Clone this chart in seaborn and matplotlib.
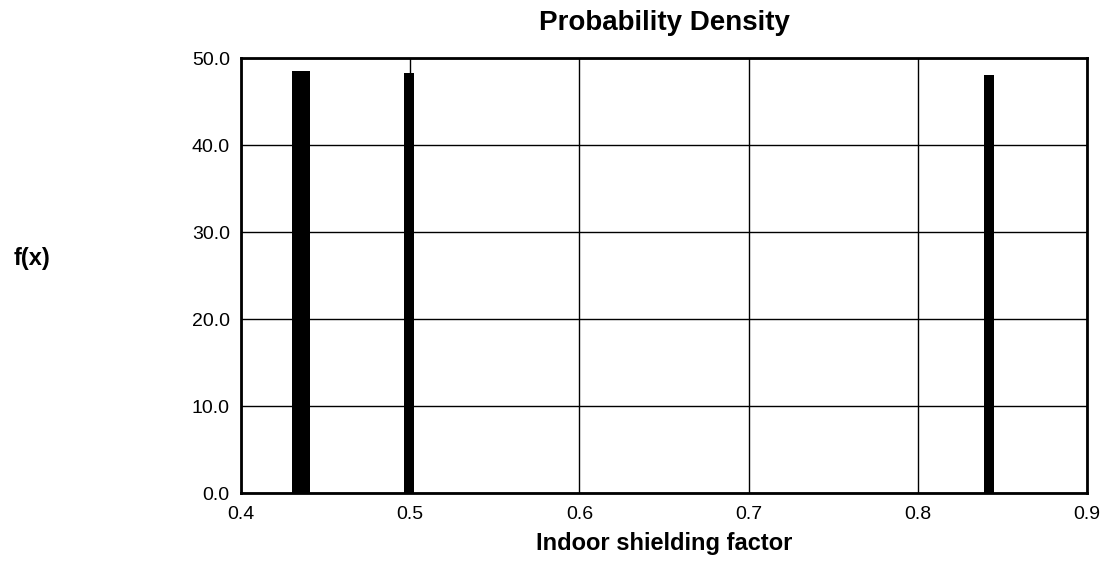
import numpy as np
import seaborn as sns
import matplotlib.pyplot as plt

# bar edges (x) and density height of each bin
bin_edges = [0.430, 0.441, 0.4965, 0.502, 0.839, 0.845]
bin_density = [48.5, 0.0, 48.3, 0.0, 48.1]
x_ticks = [0.4, 0.5, 0.6, 0.7, 0.8, 0.9]
y_ticks = [0.0, 10.0, 20.0, 30.0, 40.0, 50.0]

sns.set_theme(style="white")
plt.rcParams['font.family'] = ['Liberation Sans', 'DejaVu Sans']
plt.rcParams['text.color'] = 'black'

fig = plt.figure(figsize=(11.12, 5.71), dpi=100)
ax = fig.add_axes([0.2167, 0.1366, 0.9775 - 0.2167, 0.898 - 0.1366])

centers = [(bin_edges[i] + bin_edges[i + 1]) / 2 for i in range(len(bin_density))]
sns.histplot(x=centers, weights=bin_density, bins=bin_edges, stat="count",
             color="black", edgecolor="black", alpha=1, linewidth=0, ax=ax, zorder=3)

ax.set_xlim(0.4, 0.9)
ax.set_ylim(0, 50)
ax.set_xticks(x_ticks)
ax.set_xticklabels([f"{t:.1f}" for t in x_ticks], fontsize=14)
ax.set_yticks(y_ticks)
ax.set_yticklabels([f"{t:.1f}" for t in y_ticks], fontsize=14)
ax.tick_params(axis='x', length=0, pad=9, colors='black')
ax.tick_params(axis='y', length=0, pad=8, colors='black')
ax.grid(True, color='black', linewidth=1)
for s in ax.spines.values():
    s.set_color('black')
    s.set_linewidth(2)
    s.set_zorder(4)

ax.set_xlabel("Indoor shielding factor", fontsize=17, fontweight='bold',
              labelpad=7, color='black')
ax.set_ylabel("")
ax.set_title("Probability Density", fontsize=20, fontweight='bold', pad=20, color='black')
fig.text(0.029, 0.548, "f(x)", fontsize=17, fontweight='bold', ha='center', va='center')

plt.savefig("out.png", dpi=100)
